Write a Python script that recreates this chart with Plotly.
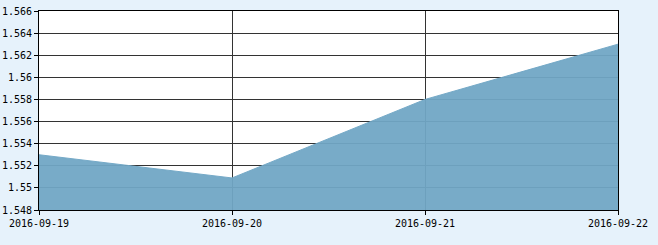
import plotly.graph_objects as go

dates = ["2016-09-19", "2016-09-20", "2016-09-21", "2016-09-22"]
values = [1.553, 1.5509, 1.558, 1.563]
y_ticks = [1.548, 1.55, 1.552, 1.554, 1.556, 1.558, 1.56, 1.562, 1.564, 1.566]
y_tick_labels = ["1.548", "1.55", "1.552", "1.554", "1.556", "1.558", "1.56", "1.562", "1.564", "1.566"]

x_idx = list(range(len(dates)))

fig = go.Figure()
fig.add_trace(go.Scatter(
    x=x_idx, y=values, mode="lines",
    fill="tozeroy",
    fillcolor="rgba(113,166,197,0.95)",
    line=dict(color="rgba(113,166,197,0.95)", width=1),
    hoverinfo="skip",
))

font = dict(family="DejaVu Sans Mono", size=10, color="#000000")

fig.update_layout(
    width=658, height=245,
    margin=dict(l=39, r=40, t=11, b=35, autoexpand=False),
    paper_bgcolor="#e6f2fb",
    plot_bgcolor="#ffffff",
    showlegend=False,
    font=font,
    xaxis=dict(
        range=[0, 3], automargin=False,
        tickmode="array", tickvals=x_idx, ticktext=dates,
        showgrid=True, gridcolor="#333333", gridwidth=1,
        showline=True, linecolor="#000000", linewidth=1, mirror=True,
        ticks="outside", ticklen=4, tickcolor="#000000",
        tickfont=font, zeroline=False,
    ),
    yaxis=dict(
        range=[1.548, 1.566], automargin=False,
        tickmode="array", tickvals=y_ticks, ticktext=y_tick_labels,
        showgrid=True, gridcolor="#333333", gridwidth=1,
        showline=True, linecolor="#000000", linewidth=1, mirror=True,
        ticks="outside", ticklen=4, tickcolor="#000000",
        tickfont=font, zeroline=False,
    ),
)

fig.write_html("out.html")
